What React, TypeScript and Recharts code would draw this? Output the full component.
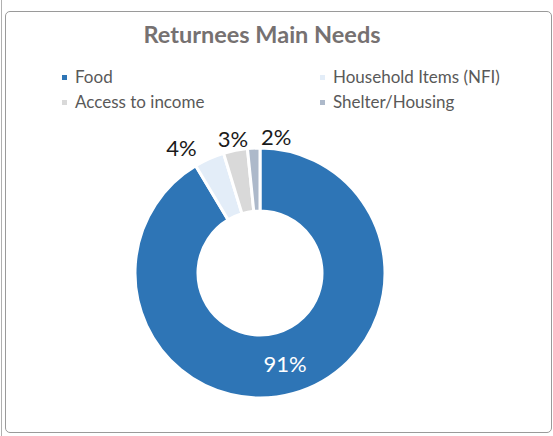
import React from 'react';
import { PieChart, Pie, Cell, Legend } from 'recharts';

const categories = ['Food', 'Household Items (NFI)', 'Access to income', 'Shelter/Housing'];
const shares = [91.4, 3.9, 3.1, 1.6];
const colors = ['#2E75B6', '#E3EDF8', '#D9D9D9', '#ADB9CA'];
const title = 'Returnees Main Needs';

const data = categories.map((name, i) => ({ name, value: shares[i] }));
const smallIdx = shares.map((v, i) => (v < 10 ? i : -1)).filter((i) => i >= 0);

const FONT = 'Lato, "Open Sans", sans-serif';
const RADIAN = Math.PI / 180;

const renderLabel = (props: any) => {
  const { cx, cy, midAngle, innerRadius, outerRadius, percent, index } = props;
  const txt = `${Math.round(percent * 100)}%`;
  if (percent > 0.5) {
    const r = (innerRadius + outerRadius) / 2;
    const x = cx + r * Math.cos(-midAngle * RADIAN);
    const y = cy + r * Math.sin(-midAngle * RADIAN);
    return (
      <text x={x} y={y} fill="#ffffff" textAnchor="middle" dominantBaseline="central"
        style={{ fontFamily: FONT, fontSize: 22 }}>{txt}</text>
    );
  }
  const r = outerRadius + 12;
  const rank = smallIdx.indexOf(index);
  const spread = (rank - (smallIdx.length - 1) / 2) * 23;
  const x = cx + r * Math.cos(-midAngle * RADIAN) + spread;
  const y = cy + r * Math.sin(-midAngle * RADIAN);
  return (
    <text x={x} y={y} fill="#1a1a1a" textAnchor="middle" dominantBaseline="central"
      style={{ fontFamily: FONT, fontSize: 22 }}>{txt}</text>
  );
};

const renderLegend = (props: any) => {
  const payload = [...(props.payload || [])].sort(
    (a: any, b: any) => categories.indexOf(a.value) - categories.indexOf(b.value)
  );
  return (
    <div style={{ display: 'grid', gridTemplateColumns: '258px 230px', rowGap: 5, paddingLeft: 62,
      fontFamily: FONT, fontSize: 17, color: '#595959', lineHeight: '20px', textAlign: 'left' }}>
      {payload.map((p: any, i: number) => (
        <div key={i} style={{ display: 'flex', alignItems: 'center' }}>
          <span style={{ width: 5, height: 5, background: p.color, display: 'inline-block', marginRight: 8 }} />
          <span>{p.value}</span>
        </div>
      ))}
    </div>
  );
};

export default function App() {
  return (
    <div style={{ position: 'absolute', left: 0, top: 0, width: 553, height: 436, background: '#fff' }}>
      <div style={{ position: 'absolute', left: 1, top: 0, width: 1, height: 436, background: '#b0b0b0' }} />
      <div style={{ position: 'absolute', left: 5, top: 11, width: 545, height: 420, border: '1px solid #9a9a9a', borderRadius: 5 }} />
      <div style={{ position: 'absolute', left: 0, top: 19, width: 524, textAlign: 'center', fontFamily: FONT,
        fontWeight: 700, fontSize: 23.5, color: '#767171', lineHeight: '30px' }}>{title}</div>
      <div style={{ position: 'absolute', left: 0, top: 0 }}>
        <PieChart width={553} height={436} margin={{ top: 0, right: 0, bottom: 0, left: 0 }}>
          <Legend verticalAlign="middle" align="center" content={renderLegend}
            wrapperStyle={{ top: 67, left: 0, width: 553 }} />
          <Pie data={data} dataKey="value" nameKey="name" cx={260} cy={273}
            innerRadius={62} outerRadius={125} startAngle={90} endAngle={-270}
            stroke="#ffffff" strokeWidth={3} label={renderLabel} labelLine={false}
            isAnimationActive={false}>
            {data.map((d, i) => (
              <Cell key={d.name} fill={colors[i]} />
            ))}
          </Pie>
        </PieChart>
      </div>
    </div>
  );
}
